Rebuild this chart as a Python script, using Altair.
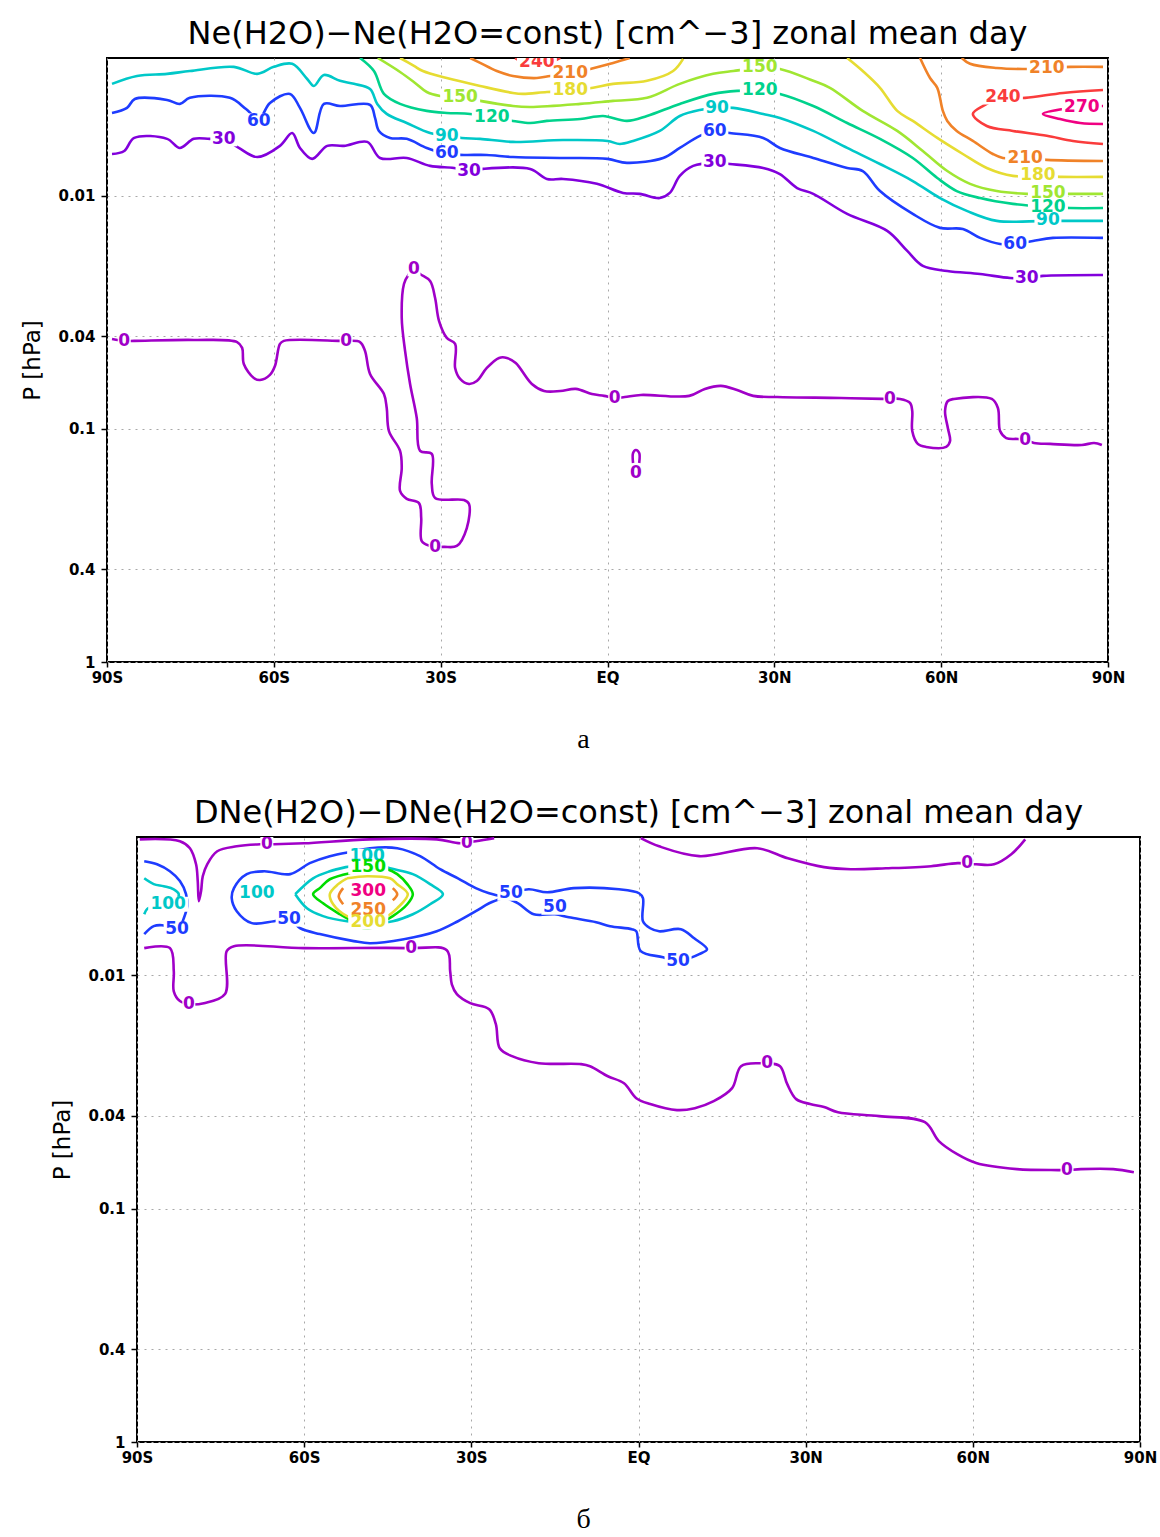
import altair as alt
import pandas as pd

# Vertical extent shared by both panels: log10 of pressure (hPa)
LOGP_TOP = -2.592
LOGP_BOTTOM = 0.0

LAT_TICKS = [-90, -60, -30, 0, 30, 60, 90]
P_TICKS = [0.01, 0.04, 0.1, 0.4, 1]

# ---------------- panel a: Ne(H2O) - Ne(H2O=const), step 30 ----------------
A_COLOURS = {0: "#a000c8", 30: "#8200dc", 60: "#1e3cff", 90: "#00c8c8", 120: "#00d28c",
             150: "#a0e632", 180: "#e6dc32", 210: "#f08228", 240: "#fa3c3c", 270: "#f00082"}

# contour lines: latitude (deg) and log10 pressure (hPa)
A0_LAT = [-89.1, -86.9, -85.1, -74.4, -66.6, -65.7, -65.4, -63.6, -62.5, -60.7,
          -59.8, -58.9, -58.2, -48.1, -47.0, -44.5, -43.6, -42.7, -40.2, -39.7,
          -39.3, -37.3, -37.0, -37.3, -36.1, -33.9, -33.5, -33.4, -31.9, -31.0,
          -29.4, -27.1, -25.3, -24.9, -25.8, -31.0, -31.6, -31.6, -33.7, -34.3,
          -35.5, -36.4, -37.0, -36.6, -35.7, -34.8, -33.7, -31.9, -31.0, -30.3,
          -28.9, -27.4, -27.4, -26.5, -24.9, -23.5, -21.7, -19.5, -18.1, -16.5,
          -13.6, -11.4, -8.5, -5.7, -2.8, -0.6, 1.3, 3.1, 6.0, 14.7,
          17.5, 20.4, 23.3, 26.2, 30.5, 42.0, 49.4, 50.8, 52.6, 54.4,
          54.8, 54.8, 55.8, 57.3, 60.9, 61.6, 61.2, 60.7, 61.2, 62.3,
          69.1, 70.2, 70.6, 71.7, 73.8, 75.1, 76.7, 79.6, 85.3, 87.5, 88.9]
A0_LGP = [-1.386, -1.378, -1.378, -1.382, -1.373, -1.348, -1.279, -1.219, -1.210, -1.232,
          -1.270, -1.365, -1.378, -1.378, -1.378, -1.373, -1.335, -1.236, -1.150, -1.090,
          -0.991, -0.906, -0.833, -0.734, -0.700, -0.682, -0.618, -0.519, -0.498, -0.494,
          -0.494, -0.498, -0.575, -0.678, -0.695, -0.704, -0.764, -0.893, -0.906, -1.047,
          -1.193, -1.335, -1.476, -1.622, -1.665, -1.687, -1.665, -1.635, -1.562, -1.464,
          -1.391, -1.365, -1.262, -1.215, -1.193, -1.206, -1.262, -1.305, -1.305, -1.283,
          -1.193, -1.163, -1.163, -1.172, -1.150, -1.142, -1.133, -1.137, -1.146, -1.142,
          -1.172, -1.185, -1.167, -1.142, -1.137, -1.133, -1.129, -1.129, -1.129, -1.112,
          -1.077, -0.991, -0.936, -0.923, -0.923, -0.948, -1.004, -1.077, -1.120, -1.129,
          -1.129, -1.090, -0.991, -0.961, -0.957, -0.953, -0.940, -0.936, -0.931, -0.940, -0.931]
A0S_LAT = [4.6, 4.6, 5.1, 5.7, 5.7]
A0S_LGP = [-0.854, -0.897, -0.910, -0.897, -0.854]

A30_LAT = [-89.1, -86.9, -85.1, -79.2, -76.9, -74.4, -71.5, -69.0, -66.3, -63.0,
           -58.9, -56.7, -55.3, -53.1, -50.4, -47.4, -43.2, -40.9, -36.1, -31.9,
           -27.6, -24.7, -22.4, -13.9, -10.9, -8.0, -1.9, 2.8, 5.8, 9.4,
           11.2, 13.0, 15.4, 19.3, 22.0, 28.0, 31.0, 34.1, 37.0, 43.1,
           50.3, 53.9, 56.7, 61.1, 67.0, 72.4, 75.4, 78.3, 89.1]
A30_LGP = [-2.180, -2.193, -2.249, -2.245, -2.206, -2.245, -2.245, -2.245, -2.206, -2.167,
           -2.215, -2.270, -2.206, -2.159, -2.215, -2.215, -2.232, -2.163, -2.163, -2.129,
           -2.120, -2.107, -2.116, -2.116, -2.073, -2.073, -2.052, -2.013, -2.009, -1.991,
           -2.013, -2.086, -2.129, -2.142, -2.137, -2.120, -2.094, -2.034, -2.009, -1.923,
           -1.850, -1.764, -1.700, -1.678, -1.665, -1.648, -1.648, -1.657, -1.661]

A60_LAT = [-89.1, -86.4, -85.0, -79.2, -76.9, -75.1, -67.9, -65.0, -62.7, -60.7,
           -57.1, -55.3, -52.8, -51.0, -48.1, -42.7, -41.8, -41.1, -39.1, -36.1,
           -32.5, -28.9, -25.8, -21.7, -17.0, -8.0, 0.0, 3.5, 10.0, 13.0,
           16.6, 19.3, 22.0, 28.0, 31.0, 37.0, 43.1, 45.9, 49.0, 54.9,
           59.8, 63.9, 67.0, 70.6, 73.3, 76.5, 80.1, 89.1]
A60_LGP = [-2.356, -2.378, -2.416, -2.412, -2.395, -2.421, -2.421, -2.373, -2.330, -2.399,
           -2.438, -2.378, -2.270, -2.395, -2.386, -2.391, -2.335, -2.279, -2.249, -2.245,
           -2.206, -2.180, -2.176, -2.176, -2.167, -2.163, -2.159, -2.142, -2.163, -2.206,
           -2.258, -2.279, -2.270, -2.249, -2.206, -2.163, -2.120, -2.107, -2.021, -1.923,
           -1.863, -1.858, -1.820, -1.794, -1.794, -1.807, -1.820, -1.820]

A90_LAT = [-89.1, -84.6, -79.2, -75.1, -67.2, -63.0, -60.0, -56.7, -54.0, -52.8,
           -51.0, -48.1, -45.6, -42.7, -41.4, -39.7, -36.1, -31.9, -28.9, -26.2,
           -22.9, -17.0, -8.0, 0.0, 2.2, 4.6, 9.4, 13.0, 16.6, 19.7,
           22.6, 28.0, 31.0, 37.0, 43.1, 49.0, 54.9, 59.8, 64.6, 70.0, 79.0, 89.1]
A90_LGP = [-2.481, -2.515, -2.524, -2.536, -2.554, -2.524, -2.554, -2.567, -2.502, -2.472,
           -2.519, -2.494, -2.481, -2.459, -2.395, -2.352, -2.313, -2.270, -2.258, -2.249,
           -2.245, -2.232, -2.240, -2.236, -2.223, -2.236, -2.279, -2.343, -2.369, -2.378,
           -2.378, -2.352, -2.335, -2.279, -2.206, -2.137, -2.064, -1.991, -1.936, -1.893, -1.893, -1.893]

A120_LAT = [-44.5, -42.0, -40.2, -37.3, -32.5, -28.9, -24.7, -20.8, -17.0, -13.9,
            -10.9, -4.9, -0.8, 3.5, 7.1, 13.0, 19.0, 23.3, 27.4, 31.0,
            37.0, 43.1, 49.0, 54.9, 59.3, 62.8, 67.0, 72.9, 79.2, 83.2, 89.1]
A120_LGP = [-2.592, -2.536, -2.438, -2.395, -2.365, -2.356, -2.352, -2.335, -2.322, -2.313,
            -2.322, -2.330, -2.343, -2.322, -2.343, -2.395, -2.438, -2.451, -2.451, -2.438,
            -2.386, -2.313, -2.245, -2.163, -2.077, -2.021, -1.991, -1.966, -1.953, -1.948, -1.948]

A150_LAT = [-41.3, -37.3, -34.6, -32.5, -30.1, -26.5, -22.9, -17.0, -13.9, -4.9,
            1.0, 7.1, 13.0, 19.0, 22.6, 27.4, 31.0, 37.0, 40.0, 45.9,
            52.1, 56.7, 61.1, 65.2, 70.0, 75.4, 79.0, 83.2, 89.1]
A150_LGP = [-2.592, -2.532, -2.485, -2.446, -2.429, -2.425, -2.408, -2.386, -2.382, -2.395,
            -2.408, -2.421, -2.481, -2.524, -2.536, -2.549, -2.545, -2.494, -2.464, -2.365,
            -2.279, -2.193, -2.107, -2.052, -2.021, -2.009, -2.009, -2.009, -2.009]

A180W_LAT = [-37.3, -34.8, -33.2, -28.9, -22.9, -17.0, -15.2, -10.9, -6.7, -2.6, 1.0, 7.1, 11.8, 13.6]
A180W_LGP = [-2.592, -2.558, -2.536, -2.506, -2.472, -2.442, -2.438, -2.446, -2.451, -2.464,
             -2.481, -2.494, -2.536, -2.588]
A180E_LAT = [43.1, 45.9, 49.0, 52.1, 54.9, 59.3, 63.9, 68.2, 72.9, 77.4, 81.4, 89.1]
A180E_LGP = [-2.592, -2.536, -2.464, -2.365, -2.322, -2.249, -2.180, -2.120, -2.086, -2.086, -2.082, -2.082]

A210W_LAT = [-24.7, -22.9, -19.9, -17.0, -12.7, -10.3, -6.7, -3.1, 1.0, 4.0]
A210W_LGP = [-2.592, -2.571, -2.536, -2.515, -2.506, -2.515, -2.528, -2.545, -2.571, -2.592]
A210E_LAT = [56.2, 58.0, 59.3, 60.3, 61.1, 62.8, 65.7, 69.3, 71.1, 75.1, 79.0, 89.1]
A210E_LGP = [-2.592, -2.506, -2.464, -2.365, -2.322, -2.279, -2.236, -2.180, -2.163, -2.163, -2.155, -2.150]
A210N_LAT = [63.7, 65.2, 70.0, 75.4, 79.0, 83.2, 89.1]
A210N_LGP = [-2.592, -2.567, -2.549, -2.545, -2.549, -2.554, -2.554]

A240W_LAT = [-16.6, -15.4, -12.7, -10.0, -8.5]
A240W_LGP = [-2.592, -2.575, -2.567, -2.575, -2.592]
A240E_LAT = [89.1, 81.9, 75.1, 71.1, 67.5, 65.7, 68.2, 72.9, 79.0, 83.7, 89.1]
A240E_LGP = [-2.455, -2.442, -2.421, -2.421, -2.386, -2.352, -2.300, -2.279, -2.258, -2.236, -2.223]

A270_LAT = [89.1, 85.3, 81.9, 78.3, 81.4, 85.0, 89.1]
A270_LGP = [-2.386, -2.382, -2.373, -2.352, -2.330, -2.313, -2.309]

A_SEGMENTS = [
    (0, A0_LAT, A0_LGP), (0, A0S_LAT, A0S_LGP),
    (30, A30_LAT, A30_LGP), (60, A60_LAT, A60_LGP), (90, A90_LAT, A90_LGP),
    (120, A120_LAT, A120_LGP), (150, A150_LAT, A150_LGP),
    (180, A180W_LAT, A180W_LGP), (180, A180E_LAT, A180E_LGP),
    (210, A210W_LAT, A210W_LGP), (210, A210E_LAT, A210E_LGP), (210, A210N_LAT, A210N_LGP),
    (240, A240W_LAT, A240W_LGP), (240, A240E_LAT, A240E_LGP),
    (270, A270_LAT, A270_LGP),
]

# contour labels: level, latitude, log10 pressure
A_LABEL_LEVEL = [30, 60, 30, 60, 90, 120, 150, 180, 210, 240,
                 150, 120, 90, 60, 30,
                 210, 240, 270, 210, 180, 150, 120, 90, 60, 30,
                 0, 0, 0, 0, 0, 0, 0, 0]
A_LABEL_LAT = [-69.0, -62.7, -24.9, -28.9, -28.9, -20.8, -26.5, -6.7, -6.7, -12.7,
               27.4, 27.4, 19.7, 19.3, 19.3,
               79.0, 71.1, 85.3, 75.1, 77.4, 79.2, 79.2, 79.2, 73.3, 75.4,
               -86.9, -47.0, -34.8, -31.0, 1.3, 50.8, 75.1, 5.1]
A_LABEL_LGP = [-2.245, -2.322, -2.107, -2.185, -2.258, -2.339, -2.425, -2.455, -2.528, -2.575,
               -2.554, -2.455, -2.378, -2.279, -2.146,
               -2.549, -2.425, -2.382, -2.163, -2.090, -2.013, -1.953, -1.897, -1.794, -1.648,
               -1.378, -1.378, -1.687, -0.494, -1.133, -1.129, -0.953, -0.811]

# ---------------- panel b: DNe(H2O) - DNe(H2O=const), step 50 ----------------
B_COLOURS = {0: "#a000c8", 50: "#1e3cff", 100: "#00c8c8", 150: "#00dc00",
             200: "#e6dc32", 250: "#f08228", 300: "#f00082"}

B0W_LAT = [-89.5, -82.3, -80.5, -79.4, -79.1, -78.9, -78.5, -78.2, -77.4, -75.6,
           -72.1, -67.9, -65.4, -60.0, -48.2, -36.2, -32.0, -29.2, -25.9]
B0W_LGP = [-2.582, -2.574, -2.544, -2.475, -2.403, -2.317, -2.360, -2.424, -2.475, -2.531,
           -2.552, -2.561, -2.561, -2.565, -2.582, -2.582, -2.565, -2.574, -2.587]
B0E_LAT = [0.4, 3.7, 10.9, 21.3, 26.8, 33.3, 38.1, 44.4, 52.5, 57.3, 60.6, 63.8, 66.9, 69.4]
B0E_LGP = [-2.587, -2.552, -2.510, -2.544, -2.501, -2.463, -2.454, -2.458, -2.467, -2.480,
           -2.475, -2.475, -2.518, -2.582]
B0_LAT = [-88.7, -84.1, -83.4, -83.4, -82.3, -80.7, -78.0, -74.2, -73.9, -72.6,
          -60.0, -40.8, -34.4, -33.8, -33.5, -32.6, -30.2, -26.8, -25.6, -24.9,
          -22.7, -17.9, -10.3, -8.7, -5.5, -2.6, -0.4, 2.1, 6.9, 10.1,
          13.5, 16.8, 18.4, 21.8, 23.2, 25.4, 26.7, 28.3, 30.8, 33.3,
          35.8, 43.2, 51.4, 53.9, 57.2, 60.6, 67.9, 75.3, 76.9, 79.4, 85.2, 88.9]
B0_LGP = [-2.116, -2.116, -2.017, -1.931, -1.889, -1.876, -1.880, -1.919, -2.103, -2.124,
          -2.116, -2.116, -2.107, -2.017, -1.961, -1.919, -1.880, -1.854, -1.790, -1.687,
          -1.653, -1.623, -1.619, -1.610, -1.567, -1.537, -1.473, -1.448, -1.422, -1.430,
          -1.460, -1.516, -1.610, -1.623, -1.623, -1.610, -1.533, -1.469, -1.448, -1.435,
          -1.413, -1.396, -1.370, -1.289, -1.233, -1.195, -1.169, -1.165, -1.165, -1.169, -1.169, -1.156]

B50W_LAT = [-88.7, -86.4, -84.1, -82.3, -81.2, -81.0, -81.6, -82.3, -84.1, -85.5, -87.0, -88.7]
B50W_LGP = [-2.488, -2.475, -2.445, -2.403, -2.347, -2.296, -2.244, -2.210, -2.206, -2.214, -2.210, -2.176]
B50C_LAT = [-24.0, -26.8, -29.2, -32.4, -35.6, -39.2, -43.3, -48.2, -51.1, -55.4,
            -59.0, -62.5, -67.2, -70.3, -72.6, -73.0, -72.1, -69.4, -65.4, -62.7,
            -60.7, -57.2, -51.1, -48.2, -42.1, -36.2, -32.4, -29.2, -26.8, -24.0]
B50C_LGP = [-2.334, -2.351, -2.373, -2.415, -2.454, -2.510, -2.544, -2.544, -2.531, -2.510,
            -2.480, -2.433, -2.445, -2.433, -2.373, -2.330, -2.274, -2.223, -2.231, -2.240,
            -2.201, -2.176, -2.146, -2.137, -2.154, -2.188, -2.231, -2.274, -2.308, -2.334]
B50E_LAT = [-24.0, -22.9, -19.7, -16.4, -11.6, -3.5, 0.1, 0.8, 0.8, 2.1,
            3.7, 7.6, 10.0, 12.3, 10.9, 9.2, 7.1, 4.4, 0.4, -0.4,
            -1.2, -5.1, -7.6, -12.5, -15.0, -18.8, -21.6, -24.0]
B50E_LGP = [-2.334, -2.351, -2.368, -2.355, -2.373, -2.368, -2.351, -2.330, -2.231, -2.201,
            -2.188, -2.197, -2.158, -2.111, -2.090, -2.073, -2.060, -2.077, -2.103, -2.188,
            -2.197, -2.210, -2.227, -2.248, -2.261, -2.261, -2.308, -2.334]

B100W_LAT = [-88.7, -87.0, -85.2, -83.4, -82.5, -83.0, -84.4, -86.8, -88.2, -88.7]
B100W_LGP = [-2.415, -2.390, -2.381, -2.368, -2.347, -2.317, -2.304, -2.296, -2.283, -2.261]
B100C_LAT = [-61.6, -58.4, -55.4, -51.8, -48.5, -44.6, -40.5, -37.4, -35.1, -37.4,
             -40.5, -44.1, -47.6, -52.3, -56.6, -59.5, -61.6]
B100C_LGP = [-2.347, -2.415, -2.445, -2.467, -2.484, -2.458, -2.433, -2.390, -2.347, -2.304,
             -2.261, -2.231, -2.223, -2.231, -2.253, -2.287, -2.347]

B150_LAT = [-51.8, -55.4, -57.2, -58.4, -56.6, -53.6, -51.4, -50.0, -48.2, -46.4,
            -44.1, -41.5, -40.5, -41.5, -43.3, -45.1, -48.5, -51.8]
B150_LGP = [-2.437, -2.411, -2.373, -2.347, -2.308, -2.261, -2.231, -2.206, -2.201, -2.223,
            -2.253, -2.304, -2.347, -2.390, -2.433, -2.454, -2.463, -2.437]

B200_LAT = [-52.3, -48.7, -44.6, -43.3, -41.4, -43.3, -45.1, -48.5, -52.3, -54.8, -55.4, -53.9, -52.3]
B200_LGP = [-2.415, -2.424, -2.415, -2.390, -2.347, -2.287, -2.253, -2.231, -2.253, -2.304,
            -2.347, -2.390, -2.415]

B250W_LAT = [-53.0, -53.8, -53.0]
B250W_LGP = [-2.373, -2.338, -2.304]
B250E_LAT = [-44.1, -43.3, -44.1]
B250E_LGP = [-2.373, -2.347, -2.321]

B_SEGMENTS = [
    (0, B0W_LAT, B0W_LGP), (0, B0E_LAT, B0E_LGP), (0, B0_LAT, B0_LGP),
    (50, B50W_LAT, B50W_LGP), (50, B50C_LAT, B50C_LGP), (50, B50E_LAT, B50E_LGP),
    (100, B100W_LAT, B100W_LGP), (100, B100C_LAT, B100C_LGP),
    (150, B150_LAT, B150_LGP), (200, B200_LAT, B200_LGP),
    (250, B250W_LAT, B250W_LGP), (250, B250E_LAT, B250E_LGP),
]

B_LABEL_LEVEL = [0, 0, 0, 0, 0, 0, 0,
                 50, 50, 50, 50, 50,
                 100, 100, 100, 150, 300, 250, 200]
B_LABEL_LAT = [-66.7, -30.8, 59.0, -80.7, -40.8, 23.1, 76.9,
               -82.8, -62.7, -22.9, -15.0, 7.1,
               -84.4, -68.5, -48.7, -48.5, -48.5, -48.5, -48.5]
B_LABEL_LGP = [-2.561, -2.565, -2.480, -1.876, -2.116, -1.623, -1.165,
               -2.197, -2.240, -2.351, -2.291, -2.060,
               -2.304, -2.351, -2.510, -2.463, -2.360, -2.278, -2.227]


def contour_frame(segments, colours):
    rows = []
    for seg, (level, lats, lgps) in enumerate(segments):
        for i, (lat, lgp) in enumerate(zip(lats, lgps)):
            rows.append({"seg": seg, "ord": i, "lat": lat, "p": 10 ** lgp,
                         "colour": colours[level]})
    return pd.DataFrame(rows)


def label_frame(levels, lats, lgps, colours):
    texts = [str(v) for v in levels]
    return pd.DataFrame({
        "text": texts,
        "nchar": [len(t) for t in texts],
        "lat": lats,
        "p": [10 ** v for v in lgps],
        "colour": [colours[v] for v in levels],
    })


LAT_LABEL = "datum.value < 0 ? (-datum.value) + 'S' : (datum.value > 0 ? datum.value + 'N' : 'EQ')"
LABEL_FONT = "DejaVu Sans"
LABEL_SIZE = 17

# white boxes that break the contour lines under their labels (1, 2 and 3 digits)
GAP_BOXES = ["M-1.3,-1.5L1.3,-1.5L1.3,1.5L-1.3,1.5Z",
             "M-2.7,-1.5L2.7,-1.5L2.7,1.5L-2.7,1.5Z",
             "M-4.0,-1.5L4.0,-1.5L4.0,1.5L-4.0,1.5Z"]


def panel(lines, labels, title, caption, caption_x, width, height):
    x = alt.X("lat:Q",
              scale=alt.Scale(domain=[-90, 90], nice=False, zero=False),
              axis=alt.Axis(values=LAT_TICKS, labelExpr=LAT_LABEL, labelFlush=False,
                            title=caption, titleX=caption_x))
    y = alt.Y("p:Q",
              scale=alt.Scale(type="log", domain=[10 ** LOGP_TOP, 10 ** LOGP_BOTTOM],
                              reverse=True, nice=False),
              axis=alt.Axis(values=P_TICKS, format="~g", title="P [hPa]"))
    line_layer = alt.Chart(lines).mark_line(
        strokeWidth=2.6, clip=True, interpolate="catmull-rom").encode(
        x=x, y=y, detail="seg:N", order=alt.Order("ord:Q"),
        color=alt.Color("colour:N", scale=None))
    gaps = alt.Chart(labels).mark_point(
        filled=True, color="white", opacity=1, size=100, clip=True).encode(
        x=x, y=y,
        shape=alt.Shape("nchar:O", scale=alt.Scale(domain=[1, 2, 3], range=GAP_BOXES),
                        legend=None))
    text = alt.Chart(labels).mark_text(
        font=LABEL_FONT, fontSize=LABEL_SIZE, fontWeight="bold", clip=True).encode(
        x=x, y=y, text="text:N", color=alt.Color("colour:N", scale=None))
    return alt.layer(line_layer, gaps, text).properties(
        width=width, height=height,
        title=alt.TitleParams(text=title, font="DejaVu Sans", fontSize=32,
                              fontWeight="normal", color="black", offset=7))


panel_a = panel(contour_frame(A_SEGMENTS, A_COLOURS),
                label_frame(A_LABEL_LEVEL, A_LABEL_LAT, A_LABEL_LGP, A_COLOURS),
                "Ne(H2O)\u2212Ne(H2O=const) [cm^\u22123]  zonal mean day",
                "\u0430", 476, 1001, 604)

panel_b = panel(contour_frame(B_SEGMENTS, B_COLOURS),
                label_frame(B_LABEL_LEVEL, B_LABEL_LAT, B_LABEL_LGP, B_COLOURS),
                "DNe(H2O)\u2212DNe(H2O=const) [cm^\u22123] zonal mean day",
                "\u0431", 446, 1003, 605)

# empty strip that moves the lower panel to the right
spacer = alt.Chart(pd.DataFrame({"v": [0]})).mark_point(opacity=0).encode(
    x=alt.X("v:Q", axis=None), y=alt.Y("v:Q", axis=None)
).properties(width=30, height=10, view=alt.ViewBackground(strokeOpacity=0))

# views are laid out by their plot areas only ("flush"); the gap between the
# two plot areas holds the first panel's axis, caption and the second title
chart = alt.vconcat(
    panel_a,
    alt.hconcat(spacer, panel_b, spacing=0, bounds="flush"),
    spacing=175,
    bounds="flush",
).properties(
    padding={"left": 20, "top": 17, "right": 0, "bottom": 0},
    background="white",
).configure_view(
    stroke="black", strokeWidth=2
).configure_axis(
    domain=False,
    grid=True, gridColor="#a8a8a8", gridDash=[2, 5], gridWidth=1,
    ticks=True, tickSize=6, tickColor="black", tickWidth=1.5,
    labelFont="DejaVu Sans", labelFontSize=15, labelFontWeight="bold",
    labelColor="black", labelPadding=6,
).configure_axisX(
    titleFont="Liberation Serif", titleFontSize=28, titleFontWeight="normal",
    titleColor="black", titlePadding=40, tickSize=5, labelPadding=3,
).configure_axisY(
    titleFont="DejaVu Sans", titleFontSize=23, titleFontWeight="normal",
    titleColor="black", titlePadding=13,
)

chart.save("out.html", embed_options={"renderer": "svg", "actions": False})
